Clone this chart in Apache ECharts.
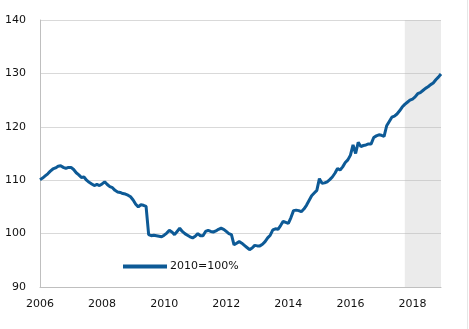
<!DOCTYPE html>
<html><head><meta charset="utf-8">
<script src="https://cdn.jsdelivr.net/npm/echarts@6/dist/echarts.min.js"></script>
<style>html,body{margin:0;padding:0;background:#fff}#c{width:469px;height:329px}</style>
</head><body><div id="c"></div>
<script>
const startYear = 2006, endYear = 2018;
const seriesName = '2010=100%';
const values = [
110.1,110.4,110.8,111.2,111.7,112.1,112.3,112.6,112.7,112.4,112.2,112.4,
112.4,112.0,111.4,111.0,110.5,110.6,110.0,109.6,109.3,109.0,109.2,109.0,
109.3,109.7,109.2,108.8,108.6,108.1,107.8,107.7,107.5,107.4,107.2,106.9,
106.3,105.5,105.0,105.4,105.3,105.1,99.8,99.6,99.7,99.6,99.5,99.4,
99.7,100.1,100.6,100.3,99.8,100.4,101.0,100.4,100.0,99.7,99.4,99.2,
99.5,100.0,99.6,99.6,100.4,100.6,100.4,100.3,100.5,100.8,101.0,100.8,
100.4,100.0,99.8,97.9,98.2,98.5,98.2,97.8,97.4,97.0,97.3,97.8,
97.7,97.7,98.0,98.5,99.2,99.7,100.7,100.9,100.8,101.5,102.3,102.1,
101.9,103.0,104.3,104.4,104.3,104.1,104.6,105.3,106.2,107.1,107.6,108.1,
110.3,109.4,109.5,109.7,110.1,110.6,111.3,112.2,111.9,112.5,113.3,113.8,
114.7,116.6,115.0,117.1,116.3,116.5,116.6,116.8,116.8,118.0,118.3,118.5,
118.4,118.2,120.2,121.0,121.8,122.0,122.4,123.0,123.7,124.2,124.6,125.0,
125.2,125.6,126.2,126.4,126.8,127.2,127.5,127.9,128.2,128.8,129.3,129.9
];
const categories = [];
for (let y = startYear; y <= endYear; y++) for (let m = 1; m <= 12; m++) categories.push(y + '-' + String(m).padStart(2, '0'));
const shadeStart = '2017-10', shadeEnd = '2018-12';
const yTicks = [90, 100, 110, 120, 130, 140];

const chart = echarts.init(document.getElementById('c'), null, {renderer: 'canvas'});
const font = 'DejaVu Sans';
chart.setOption({
  animation: false,
  backgroundColor: '#fff',
  grid: {left: 40, right: 28, top: 20, bottom: 42},
  legend: {
    left: 118, top: 256, itemWidth: 44, itemHeight: 4, itemGap: 5, icon: 'rect',
    data: [seriesName],
    textStyle: {fontFamily: font, fontSize: 11, color: '#111', padding: [0, 0, 0, -2]}
  },
  xAxis: {
    type: 'category', data: categories, boundaryGap: false,
    axisLine: {lineStyle: {color: '#bfbfbf', width: 1}},
    axisTick: {show: false},
    axisLabel: {
      interval: (i, v) => v.endsWith('-01') && (parseInt(v) % 2 === 0),
      formatter: v => v.slice(0, 4),
      fontFamily: font, fontSize: 11, color: '#111', margin: 12
    },
    splitLine: {show: false}
  },
  yAxis: {
    type: 'value', min: yTicks[0], max: yTicks[yTicks.length - 1], interval: 10,
    axisLine: {show: true, lineStyle: {color: '#bfbfbf', width: 1}},
    axisTick: {show: false},
    axisLabel: {fontFamily: font, fontSize: 11, color: '#111', margin: 14},
    splitLine: {lineStyle: {color: '#d9d9d9', width: 1}}
  },
  series: [
    {
      name: seriesName, type: 'line', data: values, symbol: 'none', z: 2,
      lineStyle: {color: '#0d5a96', width: 3}, itemStyle: {color: '#0d5a96'}
    },
    {
      name: 'shade', type: 'line', data: [], z: 10, silent: true,
      markArea: {
        silent: true,
        itemStyle: {color: 'rgba(181,181,181,0.27)'},
        data: [[{xAxis: shadeStart}, {xAxis: shadeEnd}]]
      }
    }
  ],
  graphic: [{type: 'line', shape: {x1: 467.5, y1: 0, x2: 467.5, y2: 329}, style: {stroke: '#e6e6e6', lineWidth: 1}}]
});
</script></body></html>
